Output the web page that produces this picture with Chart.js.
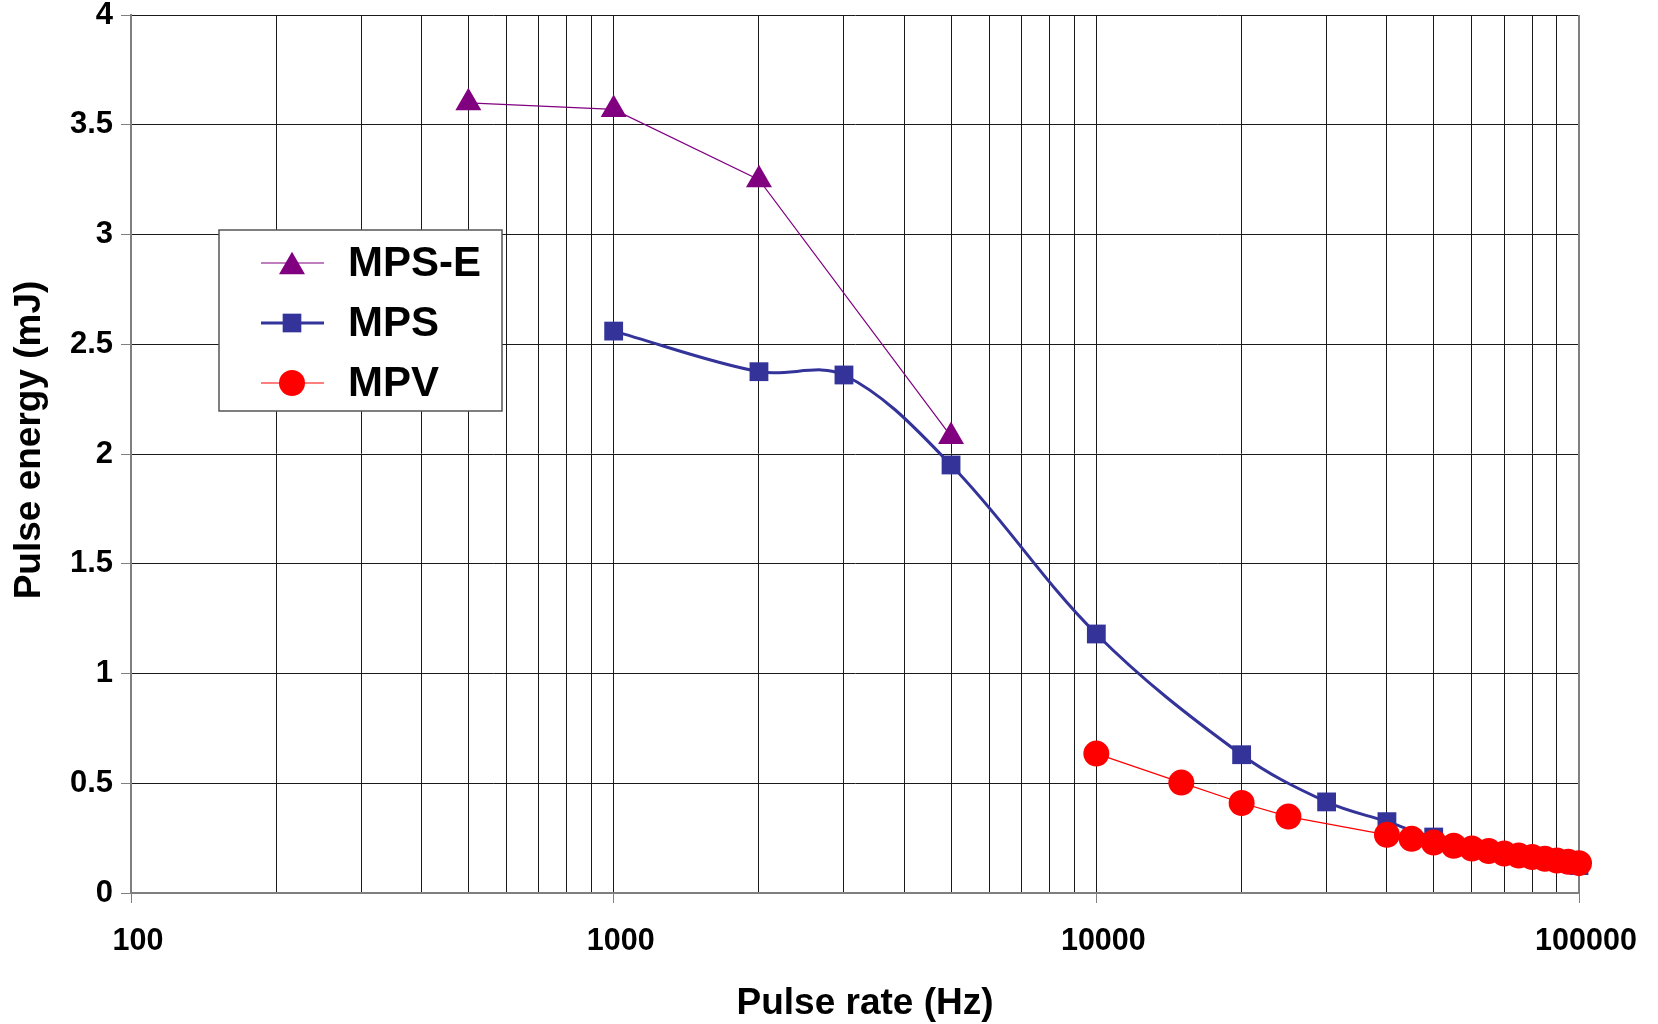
<!DOCTYPE html>
<html lang="en">
<head>
<meta charset="UTF-8">
<title>Pulse energy vs pulse rate</title>
<script src="https://cdn.jsdelivr.net/npm/chart.js"></script>
<style>
  html, body { margin: 0; padding: 0; background: #fff; }
  #wrap { width: 1658px; height: 1024px; }
</style>
</head>
<body>
<div id="wrap"><canvas id="myChart"></canvas></div>
<script>
  // MPS-E
  const mpseRate = [500, 1000, 2000, 5000];
  const mpseEnergy = [3.6, 3.57, 3.25, 2.08];
  // MPS
  const mpsRate = [1000, 2000, 3000, 5000, 10000, 20000, 30000, 40000, 50000, 100000];
  const mpsEnergy = [2.56, 2.375, 2.36, 1.95, 1.18, 0.63, 0.415, 0.325, 0.255, 0.125];
  // MPV
  const mpvRate = [10000, 15000, 20000, 25000, 40000, 45000, 50000, 55000, 60000, 65000,
                   70000, 75000, 80000, 85000, 90000, 95000, 100000];
  const mpvEnergy = [0.635, 0.503, 0.41, 0.348, 0.265, 0.247, 0.23, 0.215, 0.203, 0.191,
                     0.18, 0.171, 0.164, 0.156, 0.148, 0.142, 0.136];

  // axis labels
  const xTickLabels = [100, 1000, 10000, 100000];
  const xTitle = 'Pulse rate (Hz)';
  const yTitle = 'Pulse energy (mJ)';

  const FONT = "'Liberation Sans', Arial, Helvetica, sans-serif";

  // log grid: 1..9 in every decade
  const xGrid = [];
  for (let d = 100; d < 100000; d *= 10) {
    for (let k = 1; k <= 9; k++) xGrid.push(k * d);
  }
  xGrid.push(100000);

  function pts(xs, ys) {
    return xs.map((x, i) => ({ x: x, y: ys[i] }));
  }

  const series = [
    { label: 'MPS-E', color: '#800080', style: 'triangle', radius: 15, width: 1.2, tension: 0, order: 2,
      data: pts(mpseRate, mpseEnergy), legRadius: 15, legDy: 3.75 },
    { label: 'MPS', color: '#333399', style: 'rect', radius: 13.3, width: 3, tension: 0.35, order: 1,
      data: pts(mpsRate, mpsEnergy), legRadius: 13.2, legDy: 0 },
    { label: 'MPV', color: '#ff0000', style: 'circle', radius: 13, width: 1.2, tension: 0, order: 0,
      data: pts(mpvRate, mpvEnergy), legRadius: 13, legDy: 0 }
  ];

  // right border, axis titles and the legend box inside the plot
  const frameAndLegend = {
    id: 'frameAndLegend',
    beforeDatasetsDraw(chart) {
      const ctx = chart.ctx, a = chart.chartArea;
      ctx.save();
      ctx.strokeStyle = '#7f7f7f';
      ctx.lineWidth = 2;
      ctx.beginPath();
      ctx.moveTo(a.right, a.top);
      ctx.lineTo(a.right, a.bottom + 1);
      ctx.stroke();

      // axis titles
      ctx.fillStyle = '#000';
      ctx.textAlign = 'center';
      ctx.textBaseline = 'middle';
      ctx.font = 'bold 37px ' + FONT;
      ctx.fillText(xTitle, (a.left + a.right) / 2 + 10, a.bottom + 111);
      ctx.translate(30, (a.top + a.bottom) / 2 - 14);
      ctx.rotate(-Math.PI / 2);
      ctx.fillText(yTitle, 0, 0);
      ctx.restore();
    },
    afterDatasetsDraw(chart) {
      const ctx = chart.ctx, a = chart.chartArea;
      const bx = a.left + 88, by = a.top + 215, bw = 283, bh = 181;
      ctx.save();
      ctx.fillStyle = '#fff';
      ctx.fillRect(bx, by, bw, bh);
      ctx.strokeStyle = '#555';
      ctx.lineWidth = 1.5;
      ctx.strokeRect(bx, by, bw, bh);
      series.forEach((s, i) => {
        const y = by + 33 + i * 60;
        ctx.strokeStyle = s.color;
        ctx.lineWidth = s.width;
        ctx.beginPath();
        ctx.moveTo(bx + 42, y);
        ctx.lineTo(bx + 105, y);
        ctx.stroke();
        ctx.fillStyle = s.color;
        Chart.helpers.drawPoint(ctx, { pointStyle: s.style, radius: s.legRadius, rotation: 0, borderWidth: 0 },
          bx + 73, y + s.legDy);
        ctx.fillStyle = '#000';
        ctx.font = 'bold 42px ' + FONT;
        ctx.textAlign = 'left';
        ctx.textBaseline = 'middle';
        ctx.fillText(s.label, bx + 129, y + 1);
      });
      ctx.restore();
    }
  };

  const ctx = document.getElementById('myChart');

  new Chart(ctx, {
    type: 'scatter',
    data: {
      datasets: series.map(s => ({
        label: s.label,
        data: s.data,
        showLine: true,
        borderColor: s.color,
        backgroundColor: s.color,
        borderWidth: s.width,
        tension: s.tension,
        pointStyle: s.style,
        pointRadius: s.radius,
        pointHoverRadius: s.radius,
        pointBackgroundColor: s.color,
        pointBorderWidth: 0,
        order: s.order,
        clip: false
      }))
    },
    options: {
      responsive: true,
      maintainAspectRatio: false,
      animation: false,
      layout: { padding: { top: 15, right: 79, left: 0, bottom: 0 } },
      plugins: {
        legend: { display: false },
        tooltip: { enabled: false }
      },
      scales: {
        x: {
          type: 'logarithmic',
          min: 100,
          max: 100000,
          afterBuildTicks: (scale) => {
            scale.ticks = xGrid.map(v => ({ value: v }));
          },
          afterFit: (scale) => { scale.height = 131; },
          ticks: {
            autoSkip: false,
            maxRotation: 0,
            padding: 20,
            labelOffset: 7,
            color: '#000',
            font: { family: FONT, size: 30.5, weight: 'bold' },
            callback: (v) => xTickLabels.includes(v) ? String(v) : ''
          },
          grid: {
            color: '#1a1a1a',
            lineWidth: 1,
            tickLength: 10,
            tickColor: (c) => (c.tick && xTickLabels.includes(c.tick.value)) ? '#7f7f7f' : 'rgba(0,0,0,0)'
          },
          border: { color: '#7f7f7f', width: 2 }
        },
        y: {
          min: 0,
          max: 4,
          afterFit: (scale) => {
            scale.width = 131;
            scale.paddingTop = 0;
            scale.paddingBottom = 0;
          },
          ticks: {
            stepSize: 0.5,
            padding: 8,
            color: '#000',
            font: { family: FONT, size: 31, weight: 'bold', lineHeight: 1 },
            callback: (v) => String(v)
          },
          grid: { color: '#1a1a1a', lineWidth: 1, tickLength: 10, tickColor: '#7f7f7f' },
          border: { color: '#7f7f7f', width: 2 }
        }
      }
    },
    plugins: [frameAndLegend]
  });
</script>
</body>
</html>
